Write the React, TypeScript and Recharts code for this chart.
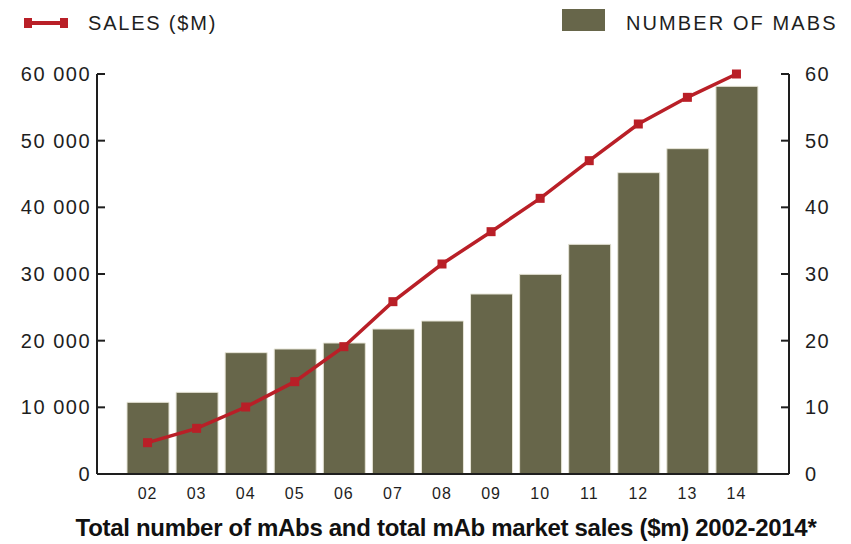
import React from 'react';
import { ComposedChart, Bar, Line, XAxis, YAxis } from 'recharts';

const years = ['02', '03', '04', '05', '06', '07', '08', '09', '10', '11', '12', '13', '14'];
const mabCounts = [10.75, 12.25, 18.2, 18.75, 19.65, 21.75, 22.95, 27.0, 29.95, 34.45, 45.2, 48.8, 58.15];
const salesMillions = [4700, 6850, 10050, 13850, 19100, 25850, 31500, 36350, 41350, 47000, 52500, 56500, 60000];
const salesTicks = [0, 10000, 20000, 30000, 40000, 50000, 60000];
const mabTicks = [0, 10, 20, 30, 40, 50, 60];

const legendSales = 'SALES ($M)';
const legendMabs = 'NUMBER OF MABS';
const title = 'Total number of mAbs and total mAb market sales ($m) 2002-2014*';

const data = years.map((y, i) => ({ year: y, mabs: mabCounts[i], sales: salesMillions[i] }));

const RED = '#b91f27';
const OLIVE = '#67664a';
const INK = '#1e1e1e';
const FONT = '"Liberation Sans", Arial, sans-serif';

const LEFT_MARGIN = 6;
const RIGHT_MARGIN = 16;
const TICK_LEN = 8;

const fmtThousands = (v: number) => {
  if (v === 0) return '0';
  const s = String(v);
  return s.slice(0, s.length - 3) + ' ' + s.slice(s.length - 3);
};

const SquareDot = (props: any) => {
  const { cx, cy, index } = props;
  if (cx == null || cy == null) return null;
  return <rect key={`d-${index}`} x={cx - 4.5} y={cy - 4.5} width={9} height={9} fill={RED} />;
};

const LeftTick = (props: any) => {
  const x = Number(props.x);
  const y = Number(props.y);
  const ax = x + LEFT_MARGIN;
  return (
    <g>
      <rect x={ax} y={y - 1} width={TICK_LEN} height={2} fill={INK} />
      <text x={x} y={y} dy="0.355em" textAnchor="end" fontSize={20} fill={INK} fontFamily={FONT} letterSpacing={1.5}>
        {fmtThousands(props.payload.value)}
      </text>
    </g>
  );
};

const RightTick = (props: any) => {
  const x = Number(props.x);
  const y = Number(props.y);
  const ax = x - RIGHT_MARGIN;
  return (
    <g>
      <rect x={ax - TICK_LEN} y={y - 1} width={TICK_LEN} height={2} fill={INK} />
      <text x={x} y={y} dy="0.355em" textAnchor="start" fontSize={20} fill={INK} fontFamily={FONT} letterSpacing={1.5}>
        {props.payload.value}
      </text>
    </g>
  );
};

export default function App() {
  return (
    <div style={{ position: 'absolute', left: 0, top: 0, width: 851, height: 544, background: '#fff', fontFamily: FONT }}>
      <ComposedChart
        width={851}
        height={544}
        data={data}
        margin={{ top: 74, right: 0, bottom: 40, left: 0 }}
      >
        <XAxis
          dataKey="year"
          xAxisId="x"
          padding={{ left: 26, right: 28 }}
          axisLine={{ stroke: INK, strokeWidth: 2 }}
          tickLine={false}
          tickSize={0}
          tickMargin={14}
          height={30}
          interval={0}
          tick={{ fontSize: 16, fill: INK, fontFamily: FONT, letterSpacing: 1 }}
        />
        <YAxis
          yAxisId="left"
          orientation="left"
          width={97}
          domain={[0, 60000]}
          ticks={salesTicks}
          interval={0}
          axisLine={{ stroke: INK, strokeWidth: 2 }}
          tickLine={false}
          tickSize={0}
          tickMargin={LEFT_MARGIN}
          tick={LeftTick}
        />
        <YAxis
          yAxisId="right"
          orientation="right"
          width={62}
          domain={[0, 60]}
          ticks={mabTicks}
          interval={0}
          axisLine={{ stroke: INK, strokeWidth: 2 }}
          tickLine={false}
          tickSize={0}
          tickMargin={RIGHT_MARGIN}
          tick={RightTick}
        />
        <Bar
          dataKey="mabs"
          xAxisId="x"
          yAxisId="right"
          barSize={42}
          fill={OLIVE}
          stroke="#e6e4d6"
          strokeWidth={1}
          isAnimationActive={false}
        />
        <Line
          dataKey="sales"
          xAxisId="x"
          yAxisId="left"
          type="linear"
          stroke={RED}
          strokeWidth={3.5}
          dot={SquareDot}
          activeDot={false}
          isAnimationActive={false}
        />
      </ComposedChart>

      <div style={{ position: 'absolute', left: 24, top: 21, width: 44, height: 4, background: RED }} />
      <div style={{ position: 'absolute', left: 24, top: 18, width: 8, height: 10, background: RED }} />
      <div style={{ position: 'absolute', left: 60, top: 18, width: 8, height: 10, background: RED }} />
      <div style={{ position: 'absolute', left: 88, top: 11, fontSize: 20, lineHeight: '24px', letterSpacing: 1.8, color: INK, whiteSpace: 'nowrap' }}>
        {legendSales}
      </div>

      <div style={{ position: 'absolute', left: 562, top: 9, width: 43, height: 22, background: OLIVE }} />
      <div style={{ position: 'absolute', left: 626, top: 11, fontSize: 20, lineHeight: '24px', letterSpacing: 2.1, color: INK, whiteSpace: 'nowrap' }}>
        {legendMabs}
      </div>

      <div style={{ position: 'absolute', left: 0, top: 514, width: 892, textAlign: 'center', fontFamily: FONT, fontWeight: 'bold', fontSize: 24, lineHeight: '28px', letterSpacing: -0.3, color: '#111', whiteSpace: 'nowrap' }}>
        {title}
      </div>
    </div>
  );
}
